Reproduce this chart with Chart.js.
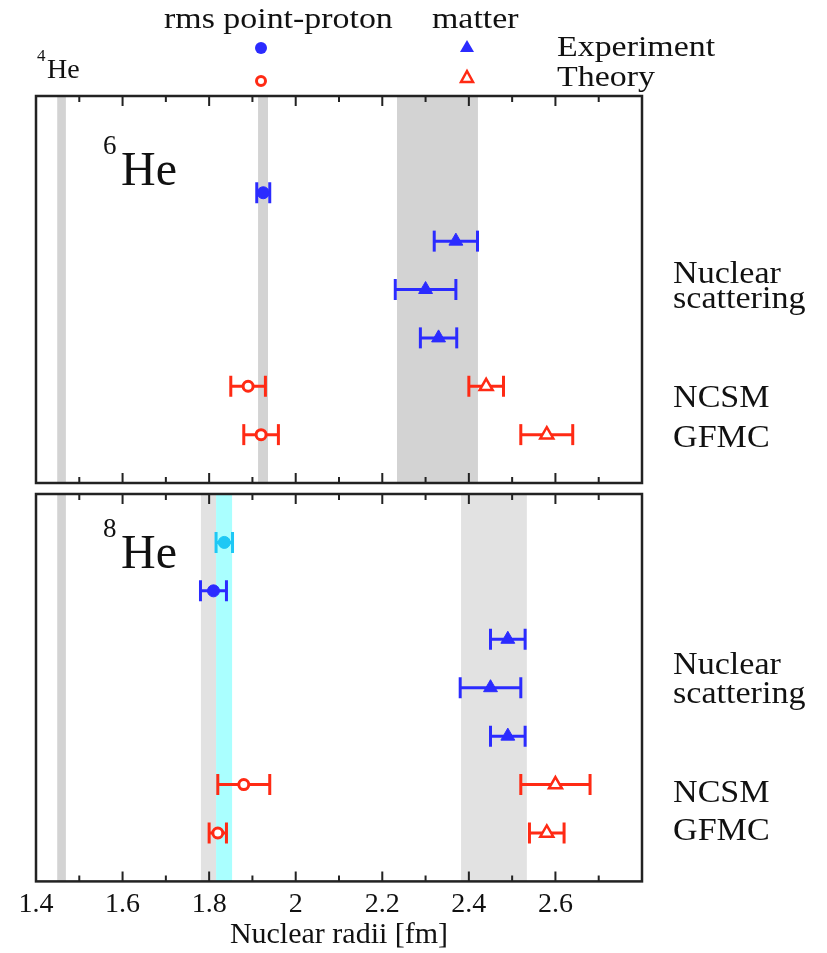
<!DOCTYPE html>
<html>
<head>
<title>He radii</title>
<style>
body { margin:0; background:#fff; overflow:hidden; }
.box { position:absolute; left:0; width:827px; }
</style>
</head>
<body>
<script src="https://cdn.jsdelivr.net/npm/chart.js"></script>
<div class="box" style="top:0"><canvas id="topChart" width="827" height="490"></canvas></div>
<div class="box" style="top:490px"><canvas id="botChart" width="827" height="463"></canvas></div>
<script>
// x axis
const xMin = 1.4, xMax = 2.8;
const xMajor = [1.4, 1.6, 1.8, 2.0, 2.2, 2.4, 2.6];
const xTickLabels = ['1.4', '1.6', '1.8', '2', '2.2', '2.4', '2.6'];
const xMinor = [1.5, 1.7, 1.9, 2.1, 2.3, 2.5, 2.7];

// rows are counted from the top of each panel, 0..8
// 6He
const he6ExpProtonRow = [2];
const he6ExpProton = [1.925];
const he6ExpProtonErr = [0.015];
const he6ExpMatterRow = [3, 4, 5];
const he6ExpMatter = [2.37, 2.30, 2.33];
const he6ExpMatterErr = [0.05, 0.07, 0.042];
const he6TheoryRow = [6, 7];   // NCSM, GFMC
const he6ThProton = [1.89, 1.92];
const he6ThProtonErr = [0.04, 0.04];
const he6ThMatter = [2.44, 2.58];
const he6ThMatterErr = [0.04, 0.06];
const he6Bands = [[1.449, 1.469], [1.913, 1.936], [2.234, 2.421]];
const he6BandColors = ['#d3d3d3', '#d3d3d3', '#d3d3d3'];

// 8He
const he8CyanRow = [1];
const he8Cyan = [1.835];
const he8CyanErr = [0.019];
const he8ExpProtonRow = [2];
const he8ExpProton = [1.81];
const he8ExpProtonErr = [0.03];
const he8ExpMatterRow = [3, 4, 5];
const he8ExpMatter = [2.49, 2.45, 2.49];
const he8ExpMatterErr = [0.04, 0.07, 0.04];
const he8TheoryRow = [6, 7];
const he8ThProton = [1.88, 1.82];
const he8ThProtonErr = [0.06, 0.02];
const he8ThMatter = [2.60, 2.58];
const he8ThMatterErr = [0.08, 0.04];
const he8Bands = [[1.449, 1.469], [1.781, 1.816], [1.816, 1.853], [2.382, 2.534]];
const he8BandColors = ['#d3d3d3', '#e2e2e2', '#aaffff', '#e2e2e2'];

// labels on the right
const rowLabels = ['Nuclear', 'scattering', 'NCSM', 'GFMC'];
const he6LabelRows = [3.87, 4.38, 6.42, 7.25];
const he8LabelRows = [3.72, 4.32, 6.37, 7.15];

const BLUE = '#2b2bff', RED = '#ff2a14', CYAN = '#1ec8f5';
const SERIF = '"Liberation Serif", "Times New Roman", Times, serif';

function stretchText(ctx, txt, x, y, font, sx) {
    ctx.save();
    ctx.translate(x, y);
    ctx.scale(sx, 1);
    ctx.font = font;
    ctx.fillText(txt, 0, 0);
    ctx.restore();
}

function errorBars(vals, errs, rows, color) {
    return vals.map((v, i) => ({
        showLine: true,
        data: [{x: v - errs[i], y: rows[i]}, {x: v + errs[i], y: rows[i]}],
        borderColor: color,
        borderWidth: 3,
        pointStyle: 'line',
        pointRotation: 90,
        pointRadius: 10.5,
        pointBorderWidth: 3,
        pointBorderColor: color,
        order: 2
    }));
}

function markers(vals, rows, style) {
    return Object.assign({
        data: vals.map((v, i) => ({x: v, y: rows[i]})),
        order: 0
    }, style);
}

const filledCircle = c => ({pointStyle: 'circle', pointRadius: 6, pointBackgroundColor: c, pointBorderColor: c, pointBorderWidth: 1});
const filledTri = c => ({pointStyle: 'triangle', pointRadius: 8, pointBackgroundColor: c, pointBorderColor: c, pointBorderWidth: 1});
const openCircle = c => ({pointStyle: 'circle', pointRadius: 5, pointBackgroundColor: '#fff', pointBorderColor: c, pointBorderWidth: 3});
const openTri = c => ({pointStyle: 'triangle', pointRadius: 7.5, pointBackgroundColor: '#fff', pointBorderColor: c, pointBorderWidth: 2.5});

const panelPlugin = {
    id: 'panel',
    beforeDatasetsDraw(chart, args, opts) {
        const {ctx, chartArea: a, scales: {x}} = chart;
        ctx.save();
        opts.bands.forEach((b, i) => {
            const x1 = x.getPixelForValue(b[0]), x2 = x.getPixelForValue(b[1]);
            ctx.fillStyle = opts.bandColors[i];
            ctx.fillRect(x1, a.top, x2 - x1, a.bottom - a.top);
        });
        ctx.restore();
    },
    afterDatasetsDraw(chart, args, opts) {
        const {ctx, chartArea: a, scales: {x, y}} = chart;
        ctx.save();
        // inward ticks on top and bottom edges
        ctx.strokeStyle = '#222';
        ctx.lineWidth = 2;
        const tick = (v, len) => {
            const px = x.getPixelForValue(v);
            ctx.beginPath();
            ctx.moveTo(px, a.top); ctx.lineTo(px, a.top + len);
            ctx.moveTo(px, a.bottom); ctx.lineTo(px, a.bottom - len);
            ctx.stroke();
        };
        xMajor.forEach(v => tick(v, 10));
        xMinor.forEach(v => tick(v, 6));
        ctx.lineWidth = 2.5;
        ctx.strokeRect(a.left, a.top, a.right - a.left, a.bottom - a.top);

        ctx.fillStyle = '#111';
        ctx.textBaseline = 'alphabetic';
        ctx.textAlign = 'left';
        rowLabels.forEach((t, i) => {
            stretchText(ctx, t, a.right + 31, y.getPixelForValue(opts.labelRows[i]), '31px ' + SERIF, 1.1);
        });
        // isotope name
        const hb = a.top + opts.isoBase;
        stretchText(ctx, opts.mass, a.left + 67, hb - 31, '27px ' + SERIF, 1);
        stretchText(ctx, 'He', a.left + 85, hb, '48px ' + SERIF, 1);

        if (opts.header) {
            stretchText(ctx, 'rms point-proton', 164, 28, '30px ' + SERIF, 1.13);
            stretchText(ctx, 'matter', 432, 28, '30px ' + SERIF, 1.13);
            stretchText(ctx, 'Experiment', 557, 56, '30px ' + SERIF, 1.13);
            stretchText(ctx, 'Theory', 557, 86, '30px ' + SERIF, 1.13);
            stretchText(ctx, '4', 37, 61, '17px ' + SERIF, 1);
            stretchText(ctx, 'He', 47, 78, '28px ' + SERIF, 1);
            // legend markers
            const cx = 261, tx = 467;
            ctx.fillStyle = BLUE;
            ctx.beginPath(); ctx.arc(cx, 48, 6, 0, Math.PI * 2); ctx.fill();
            ctx.beginPath();
            ctx.moveTo(tx, 40); ctx.lineTo(tx + 7, 52); ctx.lineTo(tx - 7, 52); ctx.closePath(); ctx.fill();
            ctx.strokeStyle = RED;
            ctx.lineWidth = 3;
            ctx.beginPath(); ctx.arc(cx, 81, 4.5, 0, Math.PI * 2); ctx.stroke();
            ctx.lineWidth = 2.5;
            ctx.beginPath();
            ctx.moveTo(tx, 71); ctx.lineTo(tx + 6, 82); ctx.lineTo(tx - 6, 82); ctx.closePath(); ctx.stroke();
        }
        ctx.restore();
    }
};

function makeChart(id, datasets, panel, padTop, padBottom, showAxis) {
    return new Chart(document.getElementById(id), {
        type: 'scatter',
        data: {datasets: datasets},
        plugins: [panelPlugin],
        options: {
            responsive: false,
            animation: false,
            layout: {autoPadding: false, padding: {left: 36, right: 185, top: padTop, bottom: padBottom}},
            plugins: {legend: {display: false}, tooltip: {enabled: false}, panel: panel},
            scales: {
                x: {
                    type: 'linear', min: xMin, max: xMax, display: showAxis,
                    grid: {display: false, drawTicks: false, tickLength: 0},
                    border: {display: false},
                    afterBuildTicks: s => { s.ticks = xMajor.map(v => ({value: v})); },
                    ticks: {
                        padding: 6, color: '#111',
                        font: {family: SERIF, size: 28},
                        callback: (v, i) => xTickLabels[i]
                    },
                    title: {
                        display: true, text: 'Nuclear radii [fm]', color: '#111',
                        font: {family: SERIF, size: 30},
                        padding: {top: -10, bottom: 0}
                    }
                },
                y: {type: 'linear', min: 0, max: 8, reverse: true, display: false}
            }
        }
    });
}

const topSets = [].concat(
    markers(he6ExpProton, he6ExpProtonRow, filledCircle(BLUE)),
    markers(he6ExpMatter, he6ExpMatterRow, filledTri(BLUE)),
    markers(he6ThProton, he6TheoryRow, openCircle(RED)),
    markers(he6ThMatter, he6TheoryRow, openTri(RED)),
    errorBars(he6ExpProton, he6ExpProtonErr, he6ExpProtonRow, BLUE),
    errorBars(he6ExpMatter, he6ExpMatterErr, he6ExpMatterRow, BLUE),
    errorBars(he6ThProton, he6ThProtonErr, he6TheoryRow, RED),
    errorBars(he6ThMatter, he6ThMatterErr, he6TheoryRow, RED)
);

const botSets = [].concat(
    markers(he8Cyan, he8CyanRow, filledCircle(CYAN)),
    markers(he8ExpProton, he8ExpProtonRow, filledCircle(BLUE)),
    markers(he8ExpMatter, he8ExpMatterRow, filledTri(BLUE)),
    markers(he8ThProton, he8TheoryRow, openCircle(RED)),
    markers(he8ThMatter, he8TheoryRow, openTri(RED)),
    errorBars(he8Cyan, he8CyanErr, he8CyanRow, CYAN),
    errorBars(he8ExpProton, he8ExpProtonErr, he8ExpProtonRow, BLUE),
    errorBars(he8ExpMatter, he8ExpMatterErr, he8ExpMatterRow, BLUE),
    errorBars(he8ThProton, he8ThProtonErr, he8TheoryRow, RED),
    errorBars(he8ThMatter, he8ThMatterErr, he8TheoryRow, RED)
);

function draw() {
    makeChart('topChart', topSets,
        {bands: he6Bands, bandColors: he6BandColors, labelRows: he6LabelRows, mass: '6', isoBase: 89, header: true},
        96, 7, false);
    makeChart('botChart', botSets,
        {bands: he8Bands, bandColors: he8BandColors, labelRows: he8LabelRows, mass: '8', isoBase: 74, header: false},
        4, 0, true);
}

if (document.fonts && document.fonts.load) {
    document.fonts.load('30px "Liberation Serif"').then(draw, draw);
} else {
    draw();
}
</script>
</body>
</html>
